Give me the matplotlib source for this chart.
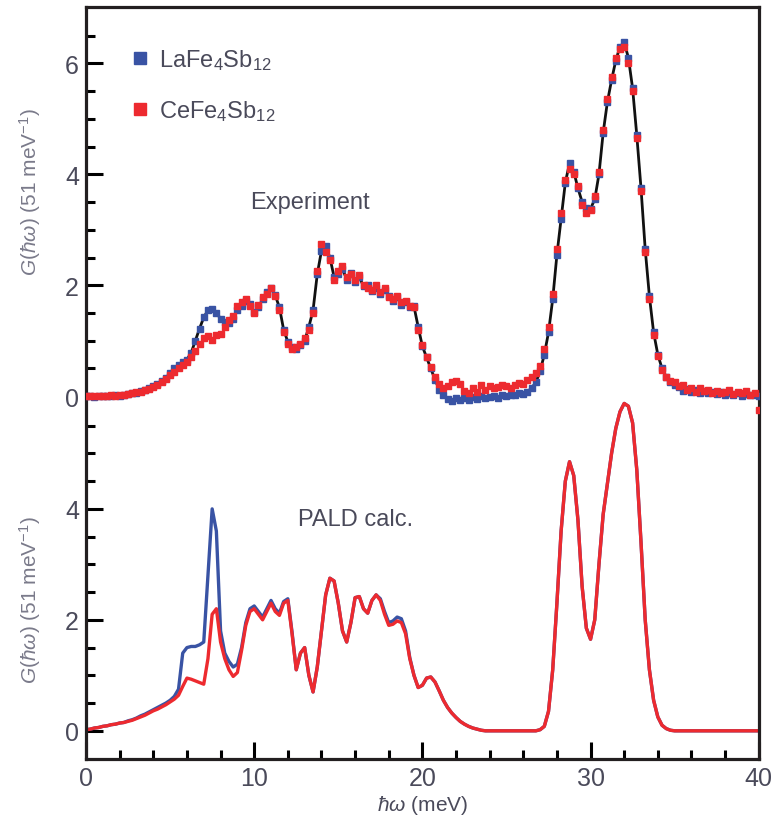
import numpy as np
import matplotlib
matplotlib.use("Agg")
import matplotlib.pyplot as plt
from matplotlib.lines import Line2D
from matplotlib.ticker import FixedLocator, NullFormatter
import matplotlib.transforms as mtransforms

plt.rcParams['font.family'] = ['Liberation Sans', 'DejaVu Sans']
plt.rcParams['mathtext.fontset'] = 'custom'
plt.rcParams['mathtext.rm'] = 'Liberation Sans'
plt.rcParams['mathtext.it'] = 'Liberation Sans:italic'

# energy grid (meV), 0.25 meV bins
energy = np.arange(0, 40.001, 0.25)

# measured G(hw), LaFe4Sb12
exp_la = [
    0.00, 0.01, -0.01, 0.00, 0.01, 0.00, 0.01, 0.02, 0.01, 0.03,
    0.04, 0.06, 0.05, 0.09, 0.12, 0.14, 0.18, 0.22, 0.28, 0.33,
    0.42, 0.50, 0.56, 0.62, 0.66, 0.78, 1.00, 1.22, 1.42, 1.55,
    1.57, 1.50, 1.40, 1.34, 1.32, 1.40, 1.55, 1.62, 1.72, 1.66,
    1.52, 1.60, 1.75, 1.88, 1.95, 1.82, 1.60, 1.20, 0.98, 0.88,
    0.86, 0.92, 1.00, 1.25, 1.55, 2.20, 2.62, 2.70, 2.50, 2.15,
    2.20, 2.30, 2.10, 2.22, 2.05, 2.15, 1.98, 2.00, 1.90, 1.95,
    1.85, 1.92, 1.80, 1.72, 1.78, 1.65, 1.70, 1.60, 1.62, 1.25,
    0.90, 0.70, 0.50, 0.30, 0.12, 0.02, -0.05, -0.08, -0.04, -0.06,
    -0.03, -0.07, -0.02, -0.05, 0.00, -0.04, -0.02, 0.01, -0.03, 0.02,
    0.00, 0.03, 0.02, 0.05, 0.04, 0.08, 0.15, 0.25, 0.45, 0.75,
    1.15, 1.75, 2.55, 3.20, 3.85, 4.20, 4.05, 3.75, 3.50, 3.40,
    3.38, 3.55, 4.00, 4.75, 5.30, 5.70, 6.05, 6.30, 6.38, 6.10,
    5.55, 4.70, 3.75, 2.65, 1.80, 1.15, 0.75, 0.50, 0.35, 0.25,
    0.20, 0.16, 0.10, 0.13, 0.08, 0.11, 0.06, 0.09, 0.05, 0.08,
    0.04, 0.07, 0.02, 0.06, 0.03, 0.05, 0.01, 0.04, 0.02, 0.03,
    0.00,
]

# measured G(hw), CeFe4Sb12
exp_ce = [
    0.00, 0.00, 0.01, 0.00, 0.00, 0.01, 0.02, 0.01, 0.03, 0.02,
    0.04, 0.05, 0.07, 0.08, 0.11, 0.13, 0.17, 0.20, 0.26, 0.31,
    0.38, 0.44, 0.50, 0.56, 0.62, 0.70, 0.82, 0.95, 1.05, 1.08,
    1.02, 1.10, 1.12, 1.25, 1.38, 1.45, 1.62, 1.70, 1.75, 1.62,
    1.50, 1.65, 1.78, 1.85, 1.95, 1.80, 1.55, 1.15, 0.95, 0.85,
    0.88, 0.95, 1.05, 1.20, 1.50, 2.25, 2.75, 2.60, 2.45, 2.10,
    2.25, 2.35, 2.15, 2.20, 2.10, 2.18, 2.00, 1.95, 1.92, 2.00,
    1.88, 1.95, 1.78, 1.75, 1.80, 1.70, 1.72, 1.62, 1.60, 1.20,
    0.92, 0.70, 0.52, 0.35, 0.22, 0.15, 0.18, 0.25, 0.28, 0.22,
    0.10, 0.05, 0.15, 0.08, 0.20, 0.12, 0.18, 0.14, 0.17, 0.20,
    0.18, 0.15, 0.20, 0.24, 0.22, 0.30, 0.35, 0.42, 0.55, 0.85,
    1.25, 1.85, 2.65, 3.30, 3.90, 4.10, 4.00, 3.78, 3.45, 3.30,
    3.35, 3.60, 4.05, 4.80, 5.35, 5.75, 6.10, 6.25, 6.30, 6.00,
    5.50, 4.65, 3.70, 2.60, 1.75, 1.10, 0.72, 0.48, 0.35, 0.28,
    0.25, 0.18, 0.20, 0.12, 0.15, 0.08, 0.14, 0.10, 0.12, 0.06,
    0.10, 0.05, 0.08, 0.12, 0.04, 0.08, 0.06, 0.09, 0.03, 0.05,
    -0.25,
]

# PALD calculation, LaFe4Sb12
calc_la = [
    0.02, 0.03, 0.05, 0.06, 0.08, 0.09, 0.11, 0.12, 0.14, 0.15,
    0.18, 0.20, 0.23, 0.27, 0.30, 0.34, 0.38, 0.42, 0.46, 0.50,
    0.55, 0.62, 0.75, 1.40, 1.50, 1.52, 1.52, 1.55, 1.60, 2.80,
    4.00, 3.60, 1.80, 1.40, 1.25, 1.15, 1.20, 1.50, 1.95, 2.20,
    2.25, 2.15, 2.05, 2.20, 2.35, 2.20, 2.12, 2.33, 2.38, 1.78,
    1.10, 1.40, 1.50, 1.00, 0.70, 1.15, 1.80, 2.45, 2.75, 2.70,
    2.30, 1.80, 1.60, 1.95, 2.40, 2.42, 2.20, 2.12, 2.35, 2.45,
    2.38, 2.15, 1.95, 1.98, 2.05, 2.02, 1.80, 1.32, 1.00, 0.78,
    0.82, 0.95, 0.97, 0.88, 0.72, 0.55, 0.42, 0.32, 0.24, 0.17,
    0.12, 0.08, 0.05, 0.03, 0.01, 0.00, 0.00, 0.00, 0.00, 0.00,
    0.00, 0.00, 0.00, 0.00, 0.00, 0.00, 0.00, 0.00, 0.02, 0.08,
    0.35, 1.10, 2.30, 3.60, 4.50, 4.85, 4.60, 3.80, 2.60, 1.85,
    1.65, 2.00, 3.00, 3.90, 4.45, 5.00, 5.45, 5.75, 5.90, 5.85,
    5.55, 4.70, 3.40, 2.00, 1.10, 0.55, 0.25, 0.10, 0.04, 0.01,
    0.00, 0.00, 0.00, 0.00, 0.00, 0.00, 0.00, 0.00, 0.00, 0.00,
    0.00, 0.00, 0.00, 0.00, 0.00, 0.00, 0.00, 0.00, 0.00, 0.00,
    0.00,
]

# PALD calculation, CeFe4Sb12
calc_ce = [
    0.02, 0.03, 0.05, 0.06, 0.08, 0.09, 0.11, 0.12, 0.14, 0.15,
    0.17, 0.19, 0.22, 0.25, 0.28, 0.32, 0.36, 0.39, 0.43, 0.47,
    0.52, 0.57, 0.64, 0.80, 0.95, 0.93, 0.90, 0.87, 0.84, 1.30,
    2.10, 2.20, 1.60, 1.30, 1.10, 0.98, 1.05, 1.45, 1.90, 2.15,
    2.20, 2.10, 2.00, 2.15, 2.30, 2.15, 2.08, 2.30, 2.35, 1.75,
    1.10, 1.40, 1.50, 1.00, 0.70, 1.15, 1.80, 2.45, 2.75, 2.70,
    2.30, 1.80, 1.60, 1.95, 2.40, 2.42, 2.20, 2.12, 2.35, 2.45,
    2.35, 2.10, 1.90, 1.92, 1.98, 1.95, 1.75, 1.30, 1.00, 0.78,
    0.82, 0.95, 0.97, 0.88, 0.72, 0.55, 0.42, 0.32, 0.24, 0.17,
    0.12, 0.08, 0.05, 0.03, 0.01, 0.00, 0.00, 0.00, 0.00, 0.00,
    0.00, 0.00, 0.00, 0.00, 0.00, 0.00, 0.00, 0.00, 0.02, 0.08,
    0.35, 1.10, 2.30, 3.60, 4.50, 4.85, 4.60, 3.80, 2.60, 1.85,
    1.65, 2.00, 3.00, 3.90, 4.45, 5.00, 5.45, 5.75, 5.90, 5.85,
    5.55, 4.70, 3.40, 2.00, 1.10, 0.55, 0.25, 0.10, 0.04, 0.01,
    0.00, 0.00, 0.00, 0.00, 0.00, 0.00, 0.00, 0.00, 0.00, 0.00,
    0.00, 0.00, 0.00, 0.00, 0.00, 0.00, 0.00, 0.00, 0.00, 0.00,
    0.00,
]

labels = ['LaFe$_4$Sb$_{12}$', 'CeFe$_4$Sb$_{12}$']
ytick_top = [0, 2, 4, 6]
ytick_bottom = [0, 2, 4]
xticks = [0, 10, 20, 30, 40]

BLUE = '#3953a4'
RED = '#ed2a2f'
TXT = '#4a4a5a'
offset = 6.03   # vertical shift of the experimental panel

fig = plt.figure(figsize=(7.75, 8.28), dpi=100)
ax = fig.add_axes([0.111, 0.082, 0.868, 0.908])

# lower panel: calculation
ax.plot(energy, calc_la, color=BLUE, lw=2.4, solid_joinstyle='round')
ax.plot(energy, calc_ce, color=RED, lw=2.4, solid_joinstyle='round')

# upper panel: experiment
top_la = np.array(exp_la) + offset
top_ce = np.array(exp_ce) + offset
ax.plot(energy, top_la, color='#111111', lw=2.0, zorder=2)
ax.plot(energy, top_la, ls='none', marker='s', ms=5, mfc=BLUE, mec=BLUE, zorder=3)
ax.plot(energy, top_ce, ls='none', marker='s', ms=5, mfc=RED, mec=RED, zorder=4)

ax.set_xlim(0, 40)
ax.set_ylim(-0.51, 13.04)

# y ticks for both panels on one axis
major_y = [v for v in ytick_bottom] + [v + offset for v in ytick_top]
minor_y = [v * 0.5 for v in range(1, 12) if v % 4] + \
          [offset + v * 0.5 for v in range(1, 14) if v % 4]
ax.yaxis.set_major_locator(FixedLocator(major_y))
ax.set_yticklabels([str(v) for v in ytick_bottom] + [str(v) for v in ytick_top])
ax.yaxis.set_minor_locator(FixedLocator(minor_y))
ax.yaxis.set_minor_formatter(NullFormatter())

ax.set_xticks(xticks)
ax.set_xticklabels([str(v) for v in xticks])
ax.set_xticks(np.arange(2, 40, 2), minor=True)

ax.tick_params(which='major', direction='in', length=12, width=2.2,
               labelsize=18, labelcolor=TXT, pad=5, top=False, right=False)
ax.tick_params(which='minor', direction='in', length=6.5, width=2.2,
               top=False, right=False)
for sp in ax.spines.values():
    sp.set_linewidth(2.3)
    sp.set_color('#231f20')

ax.set_xlabel(r'$\hbar\omega$ (meV)', fontsize=15, color=TXT, labelpad=2)

trans = mtransforms.blended_transform_factory(ax.transAxes, ax.transData)
ylab = r'$G(\hbar\omega)$ (51 meV$^{-1}$)'
ax.text(-0.083, 3.7 + offset, ylab, transform=trans, rotation=90,
        ha='center', va='center', fontsize=15, color='#7a7a8a')
ax.text(-0.083, 2.37, ylab, transform=trans, rotation=90,
        ha='center', va='center', fontsize=15, color='#7a7a8a')

ax.text(13.3, 3.5 + offset, 'Experiment', ha='center', va='center',
        fontsize=17, color=TXT)
ax.text(16.0, 3.81, 'PALD calc.', ha='center', va='center',
        fontsize=17, color=TXT)

handles = [Line2D([0], [0], ls='none', marker='s', ms=9, mfc=c, mec=c)
           for c in (BLUE, RED)]
ax.legend(handles, labels, loc='upper left', bbox_to_anchor=(0.035, 0.975),
          frameon=False, fontsize=17, labelcolor=TXT, handlelength=0.8,
          handletextpad=0.4, labelspacing=1.1)

fig.savefig('out.png', dpi=100)
